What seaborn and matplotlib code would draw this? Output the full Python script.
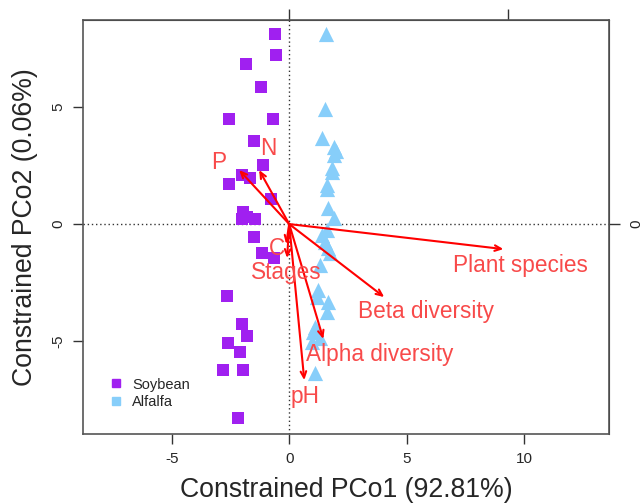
import matplotlib
matplotlib.use("Agg")
import matplotlib.pyplot as plt
import seaborn as sns
import pandas as pd
from matplotlib.lines import Line2D

# ---- data ----
soy_x = [-0.60, -0.55, -1.83, -1.19, -2.55, -0.68, -1.49, -1.11, -2.00, -1.66,
         -2.55, -0.77, -1.96, -1.79, -2.00, -1.45, -1.49, -1.15, -0.64, -2.64,
         -2.00, -1.79, -2.60, -2.09, -2.81, -1.96, -2.17]
soy_y = [8.12, 7.22, 6.84, 5.85, 4.49, 4.49, 3.55, 2.52, 2.09, 1.97,
         1.71, 1.07, 0.51, 0.30, 0.21, 0.21, -0.56, -1.24, -1.45, -3.08,
         -4.27, -4.79, -5.09, -5.47, -6.24, -6.24, -8.29]
alf_x = [1.57, 1.53, 1.40, 1.91, 2.00, 1.91, 1.83, 1.83, 1.62, 1.62,
         1.66, 1.91, 1.62, 1.40, 1.53, 1.66, 1.74, 1.32, 1.23, 1.19,
         1.66, 1.62, 1.11, 1.02, 1.32, 0.98, 1.11]
alf_y = [8.12, 4.91, 3.68, 3.29, 3.12, 2.95, 2.39, 2.22, 1.67, 1.50,
         0.68, 0.26, -0.26, -0.47, -0.77, -1.03, -1.24, -1.75, -2.82, -3.12,
         -3.33, -3.76, -4.40, -4.62, -4.87, -5.04, -6.37]

env_names = ["Plant species", "Beta diversity", "Alpha diversity", "pH",
             "Stages", "C", "P", "N"]
env_x = [9.11, 4.04, 1.45, 0.64, -0.09, -0.13, -2.13, -1.28]
env_y = [-1.07, -3.12, -4.91, -6.67, -1.45, -0.85, 2.31, 2.31]
lab_x = [9.83, 5.83, 3.83, 0.68, -0.13, -0.51, -2.98, -0.89]
lab_y = [-1.75, -3.72, -5.56, -7.35, -2.09, -1.03, 2.61, 3.21]

groups = ["Soybean", "Alfalfa"]
colors = {"Soybean": "#A020F0", "Alfalfa": "#87CEFA"}

df = pd.DataFrame({
    "x": soy_x + alf_x,
    "y": soy_y + alf_y,
    "group": ["Soybean"] * len(soy_x) + ["Alfalfa"] * len(alf_x),
})

sns.set_style("white")
plt.rcParams["font.family"] = ["Liberation Sans", "DejaVu Sans"]

fig = plt.figure(figsize=(6.41, 5.03), dpi=100)
ax = fig.add_axes([83 / 641, 1 - 434 / 503, (609 - 83) / 641, (434 - 20) / 503])

ax.axhline(0, color="#333333", lw=1, ls=(0, (1, 2)), zorder=1)
ax.axvline(0, color="#333333", lw=1, ls=(0, (1, 2)), zorder=1)

sns.scatterplot(data=df[df.group == "Soybean"], x="x", y="y", ax=ax,
                color=colors["Soybean"], marker="s", s=72, linewidth=0,
                legend=False, zorder=2)
sns.scatterplot(data=df[df.group == "Alfalfa"], x="x", y="y", ax=ax,
                color=colors["Alfalfa"], marker="^", s=120, linewidth=0,
                legend=False, zorder=2)

for name, ex, ey, lx, ly in zip(env_names, env_x, env_y, lab_x, lab_y):
    ax.annotate("", xy=(ex, ey), xytext=(0, 0),
                arrowprops=dict(arrowstyle="->,head_length=0.45,head_width=0.2",
                                color="#FF0000", lw=1.5, shrinkA=0, shrinkB=0),
                zorder=3)
    ax.text(lx, ly, name, color="#F84A4A", fontsize=16.3,
            ha="center", va="center", zorder=4)

ax.set_xlim(-8.77, 13.6)
ax.set_ylim(-8.97, 8.72)

ax.set_xticks([-5, 0, 5, 10])
ax.set_yticks([-5, 0, 5])
ax.set_xticklabels(["-5", "0", "5", "10"])
ax.set_yticklabels(["-5", "0", "5"], rotation=90, va="center")
ax.tick_params(axis="both", direction="out", length=7, width=1,
               color="#333333", labelsize=11, pad=6, left=True, bottom=True)

ax.set_xlabel("Constrained PCo1 (92.81%)", fontsize=19.2, labelpad=8)
ax.set_ylabel("Constrained PCo2 (0.06%)", fontsize=19.2, labelpad=9)

for sp in ax.spines.values():
    sp.set_color("#555555")
    sp.set_linewidth(1.2)

# secondary axes (arrow scale) ticks
top = ax.secondary_xaxis("top")
top.set_xticks([0, 9.32])
top.set_xticklabels(["", ""])
top.tick_params(direction="out", length=8, width=1, color="#333333")
right = ax.secondary_yaxis("right")
right.set_yticks([0])
right.set_yticklabels(["0"], rotation=90, va="center")
right.tick_params(direction="out", length=8, width=1, color="#333333",
                  labelsize=11, pad=7)

handles = [Line2D([], [], marker="s", ls="", color=colors[g], markersize=5.5)
           for g in groups]
ax.legend(handles, groups, loc="upper left", bbox_to_anchor=(0.024, 0.168),
          frameon=False, fontsize=10.5, handletextpad=0.6, labelspacing=0.25,
          handlelength=1.0)

fig.savefig("out.png", dpi=100)
